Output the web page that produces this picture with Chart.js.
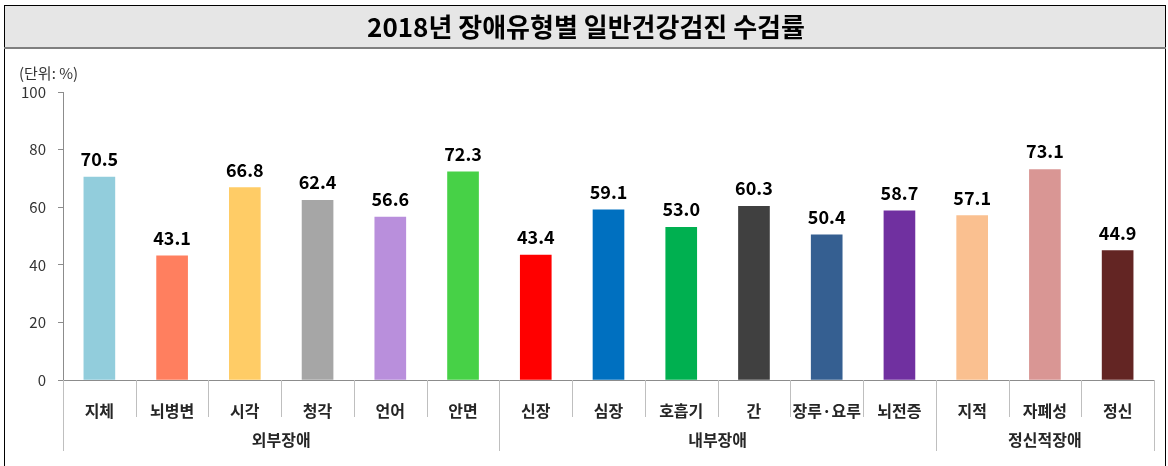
<!DOCTYPE html>
<html>
<head>
<meta charset="utf-8">
<script src="https://cdn.jsdelivr.net/npm/chart.js@4.4.1/dist/chart.umd.min.js"></script>
<style>
  html, body { margin: 0; padding: 0; background: #fff; }
  #wrap { width: 1168px; height: 466px; position: relative; }
</style>
</head>
<body>
<div id="wrap"><canvas id="chart" width="1168" height="466"></canvas></div>
<script>
const titleText = '2018년 장애유형별 일반건강검진 수검률';
const unitText = '(단위: %)';
const categories = ['지체', '뇌병변', '시각', '청각', '언어', '안면', '신장', '심장', '호흡기', '간', '장루·요루', '뇌전증', '지적', '자폐성', '정신'];
const rates = [70.5, 43.1, 66.8, 62.4, 56.6, 72.3, 43.4, 59.1, 53.0, 60.3, 50.4, 58.7, 57.1, 73.1, 44.9];
const groups = ['외부장애', '내부장애', '정신적장애'];
const groupSizes = [6, 6, 3];
const barColors = ['#92cddc', '#ff7f5f', '#ffcc66', '#a6a6a6', '#b98fdc', '#47d147', '#ff0000', '#0070c0', '#00b050', '#404040', '#355f91', '#7030a0', '#fac090', '#d99694', '#632523'];
const yTicks = [0, 20, 40, 60, 80, 100];

const FONT = "'Noto Sans CJK KR', 'Noto Sans', sans-serif";

// frame, title box, unit label
const framePlugin = {
  id: 'frame',
  beforeDraw(chart) {
    const c = chart.ctx;
    c.save();
    c.fillStyle = '#e6e6e6';
    c.fillRect(4, 5, 1162, 43);
    c.strokeStyle = '#000';
    c.lineWidth = 1;
    c.strokeRect(4.5, 5.5, 1161, 470);
    c.strokeStyle = '#7f7f7f';
    c.lineWidth = 2;
    c.beginPath();
    c.moveTo(4, 48); c.lineTo(1166, 48);
    c.stroke();
    c.fillStyle = '#000';
    c.font = 'bold 26px ' + FONT;
    c.textAlign = 'center';
    c.textBaseline = 'middle';
    c.fillText(titleText, 586, 27);
    c.font = '15px ' + FONT;
    c.fillStyle = '#333';
    c.textAlign = 'left';
    c.fillText(unitText, 19, 73);
    c.restore();
  }
};

// separators, group names, value labels
const labelsPlugin = {
  id: 'labels',
  afterDatasetsDraw(chart) {
    const c = chart.ctx;
    const x = chart.scales.x;
    const base = chart.chartArea.bottom;
    const w = (x.right - x.left) / categories.length;
    c.save();
    c.strokeStyle = '#bfbfbf';
    c.lineWidth = 1;
    let start = 0;
    const groupEdges = [0];
    groupSizes.forEach(n => { start += n; groupEdges.push(start); });
    for (let i = 0; i <= categories.length; i++) {
      const px = Math.round(x.left + i * w) + 0.5;
      const len = groupEdges.includes(i) ? 71 : 37;
      c.beginPath();
      c.moveTo(px, base);
      c.lineTo(px, base + len);
      c.stroke();
    }
    c.fillStyle = '#262626';
    c.font = 'bold 16px ' + FONT;
    c.textAlign = 'center';
    c.textBaseline = 'middle';
    for (let g = 0; g < groups.length; g++) {
      const cx = x.left + (groupEdges[g] + groupEdges[g + 1]) / 2 * w;
      c.fillText(groups[g], cx, base + 60);
    }
    const meta = chart.getDatasetMeta(0);
    c.fillStyle = '#000';
    c.font = 'bold 18px ' + FONT;
    c.textBaseline = 'alphabetic';
    meta.data.forEach((bar, i) => {
      c.fillText(rates[i].toFixed(1), bar.x, bar.y - 11);
    });
    c.restore();
  }
};

new Chart(document.getElementById('chart'), {
  type: 'bar',
  data: {
    labels: categories,
    datasets: [{
      data: rates,
      backgroundColor: barColors,
      barThickness: 31,
      borderWidth: 0
    }]
  },
  options: {
    responsive: false,
    animation: false,
    layout: { padding: { left: 0, right: 14, top: 92, bottom: 6 } },
    plugins: { legend: { display: false }, tooltip: { enabled: false } },
    scales: {
      x: {
        grid: { display: false },
        border: { color: '#8c8c8c' },
        ticks: { color: '#262626', font: { family: FONT, size: 16, weight: 'bold' }, padding: 13, maxRotation: 0, autoSkip: false },
        afterFit(scale) { scale.height = 80; }
      },
      y: {
        min: 0, max: 100,
        afterBuildTicks(scale) { scale.ticks = yTicks.map(v => ({ value: v })); },
        grid: { drawOnChartArea: false, tickLength: 5, color: '#8c8c8c' },
        border: { color: '#8c8c8c' },
        ticks: { color: '#333', font: { family: FONT, size: 15 }, padding: 12 },
        afterFit(scale) { scale.width = 63; }
      }
    }
  },
  plugins: [framePlugin, labelsPlugin]
});
</script>
</body>
</html>
